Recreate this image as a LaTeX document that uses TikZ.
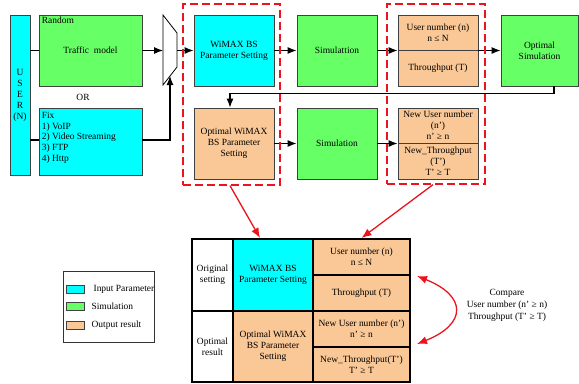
\documentclass[tikz,border=0pt]{standalone}
\usepackage{fontspec}
\setmainfont{Liberation Serif}
\usetikzlibrary{positioning, arrows.meta}
\definecolor{inputcol}{RGB}{0,255,255}
\definecolor{simcol}{RGB}{102,255,102}
\definecolor{outcol}{RGB}{250,200,150}
\definecolor{grpred}{RGB}{235,20,30}

\begin{document}
\begin{tikzpicture}[x=1bp, y=-1bp,
    every node/.style={font=\fontsize{9.5}{11}\selectfont},
    wh/.style 2 args={minimum width=#1bp, minimum height=#2bp},
    blk/.style={draw=black!75, line width=0.8bp, align=center, inner sep=1bp},
    inbox/.style={blk, fill=inputcol},
    simbox/.style={blk, fill=simcol},
    outbox/.style={blk, fill=outcol},
    cell/.style={draw=black, line width=2bp, align=center, inner sep=1bp},
    grp/.style={draw=grpred, line width=1.3bp, dash pattern=on 8bp off 4bp},
    wire/.style={line width=1.1bp},
    arr/.style={wire, -{Latex[length=9bp,width=7bp]}},
    redarr/.style={grpred, line width=1.3bp, -{Latex[length=10bp,width=8bp]}}]
  \useasboundingbox (0,0) rectangle (579,383);

  % input side
  \node[inbox, wh={20}{160}] (user) at (20,95) {U\\S\\E\\R\\(N)};
  \node[simbox, wh={103}{71}] (traffic) at (90.5,50.5) {Traffic\ \ model};
  \node[anchor=north west, inner sep=1bp] (random) at ([shift={(2,1)}]traffic.north west) {Random};
  \node (or) at (83,97) {OR};
  \node[inbox, wh={103}{67}] (fix) at (90.5,141.5) {};
  \node[anchor=north west, align=left, inner sep=1bp] (fixlist) at ([shift={(2,3)}]fix.north west)
    {Fix\\1) VoIP\\2) Video Streaming\\3) FTP\\4) Http};

  % selector
  \draw[line width=0.8bp] (163,15) -- (177,33) -- (177,67) -- (163,85) -- cycle;
  \coordinate (muxin) at (163,50.5);
  \coordinate (muxout) at (177,50.5);
  \coordinate (muxlow) at (170,76);

  % first pass
  \node[inbox, wh={80}{71}] (wimax) at (234,50.5) {WiMAX BS\\Parameter Setting};
  \node[simbox, wh={80}{71}] (sim1) at (337,50.5) {Simulattion};
  \node[outbox, wh={80}{35}] (out1a) at (438,32.5) {User number (n)\\n ≤ N};
  \node[outbox, wh={80}{36}] (out1b) at (438,68) {Throughput (T)};
  \node[simbox, wh={77}{71}] (optsim) at (539.5,50.5) {Optimal\\Simulation};

  % second pass
  \node[outbox, wh={80}{71}] (optwimax) at (234,143.5) {Optimal WiMAX\\BS Parameter\\Setting};
  \node[simbox, wh={80}{71}] (sim2) at (337,143.5) {Simulation};
  \node[outbox, wh={80}{35}] (out2a) at (438,125.5) {New User number\\(n')\\n' ≥ n};
  \node[outbox, wh={80}{36}] (out2b) at (438,161) {New\_Throughput\\(T')\\T' ≥ T};

  % connectors
  \coordinate (fixout) at ([yshift=1.5bp]fix.east);
  \draw[wire] (user.east |- traffic.west) -- (traffic.west);
  \draw[wire] (fixout -| user.east) -- (fixout -| fix.west);
  \draw[arr] (traffic.east) -- (muxin);
  \draw[arr] (fixout) -| (muxlow);
  \draw[arr] (muxout) -- (wimax.west);
  \draw[arr] (wimax) -- (sim1);
  \draw[arr] (sim1.east) -- (sim1.east -| out1a.west);
  \draw[arr] (optsim.west -| out1a.east) -- (optsim.west);
  \draw[arr] ([xshift=14.5bp]optsim.south) -- ++(0,7) -| ([xshift=-4bp]optwimax.north);
  \draw[arr] (optwimax) -- (sim2);
  \draw[arr] (sim2.east) -- (sim2.east -| out2a.west);

  % groups
  \node[grp, wh={97}{181}] (grpL) at (231.5,94.5) {};
  \node[grp, wh={98}{180}] (grpR) at (436,94) {};

  % result table
  \node[cell, fill=white, wh={41}{72}] (orig) at (212.5,275) {Original\\setting};
  \node[cell, fill=white, wh={41}{71}] (optres) at (212.5,346.5) {Optimal\\result};
  \node[cell, fill=inputcol, wh={80}{72}] (tabwimax) at (273,275) {WiMAX BS\\Parameter Setting};
  \node[cell, fill=outcol, wh={80}{71}] (tabopt) at (273,346.5) {Optimal WiMAX\\BS Parameter\\Setting};
  \node[cell, fill=outcol, wh={97}{36}] (tabuser) at (361.5,257) {User number (n)\\n ≤ N};
  \node[cell, fill=outcol, wh={97}{36}] (tabtp) at (361.5,293) {Throughput (T)};
  \node[cell, fill=outcol, wh={97}{36}] (tabnuser) at (361.5,329) {New User number (n')\\n' ≥ n};
  \node[cell, fill=outcol, wh={97}{35}] (tabntp) at (361.5,364.5) {New\_Throughput(T')\\T' ≥ T};

  \draw[redarr] ([xshift=-1.5bp]grpL.south) -- ([xshift=-13bp]tabwimax.north);
  \draw[redarr] ([xshift=-3bp]grpR.south) -- (tabuser.north);

  % compare
  \draw[redarr, {Latex[length=10bp,width=8bp]}-{Latex[length=10bp,width=8bp]}]
    ([shift={(6,2)}]tabtp.north east) .. controls +(50,20) and +(50,-20) .. ([shift={(6,-2)}]tabntp.north east);
  \node[align=center, font=\fontsize{9.5}{12}\selectfont] (cmp) at (507,305)
    {Compare\\User number (n' ≥ n)\\Throughput (T' ≥ T)};

  % legend
  \node[draw=black!80, line width=0.8bp, wh={91}{71}] (legend) at (108.5,306.5) {};
  \node[inbox, wh={18}{8}, inner sep=0pt] (keyin) at (75,289) {};
  \node[simbox, wh={18}{8}, inner sep=0pt] (keysim) at (75,306) {};
  \node[outbox, wh={18}{8}, inner sep=0pt] (keyout) at (75,325) {};
  \node[anchor=west, inner sep=0pt] at ([xshift=9bp]keyin.east) {Input Parameter};
  \node[anchor=west, inner sep=0pt] at ([xshift=7bp]keysim.east) {Simulation};
  \node[anchor=west, inner sep=0pt] at ([xshift=7bp]keyout.east) {Output result};
\end{tikzpicture}
\end{document}
